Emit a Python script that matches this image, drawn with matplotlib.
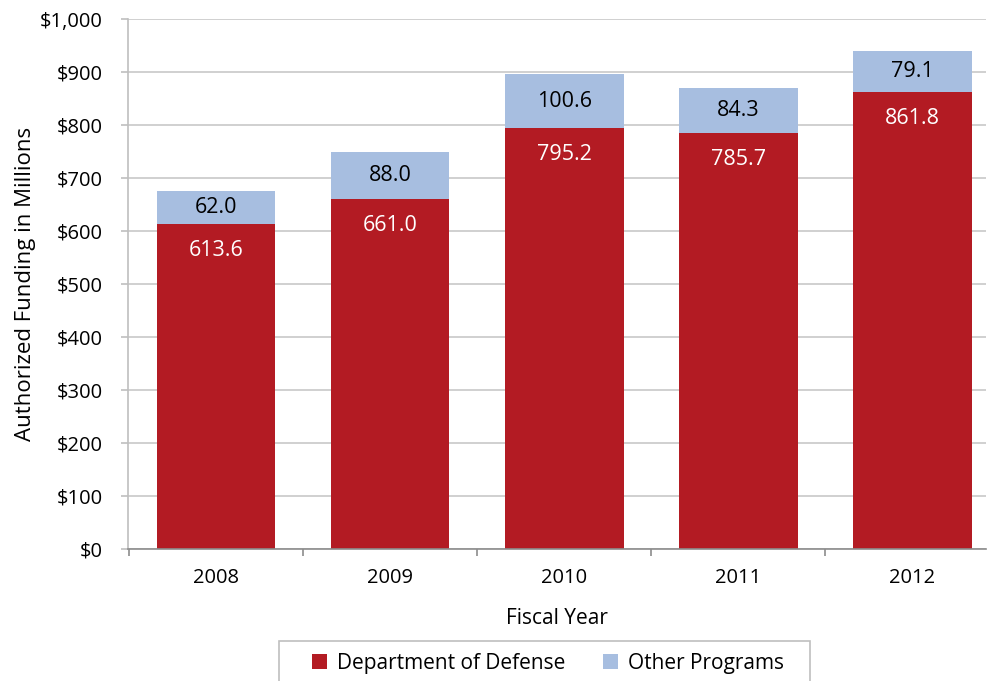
import matplotlib.pyplot as plt
from matplotlib.patches import Rectangle
from matplotlib.ticker import FuncFormatter

years = ['2008', '2009', '2010', '2011', '2012']
dod = [613.6, 661.0, 795.2, 785.7, 861.8]
other = [62.0, 88.0, 100.6, 84.3, 79.1]

red = '#B31B23'
blue = '#A7BEE0'

plt.rcParams['font.family'] = ['Open Sans', 'DejaVu Sans']

fig = plt.figure(figsize=(9.88, 6.81), dpi=100)
ax = fig.add_axes([0.1296, 0.1938, 0.868, 0.778])

x = list(range(len(years)))
ax.bar(x, dod, width=0.68, color=red, label='Department of Defense', zorder=2)
ax.bar(x, other, width=0.68, bottom=dod, color=blue, label='Other Programs', zorder=2)

for i in x:
    ax.text(i, dod[i] - 50, '{:.1f}'.format(dod[i]), ha='center', va='center',
            color='white', fontsize=15.5, zorder=3)
    ax.text(i, dod[i] + other[i] / 2, '{:.1f}'.format(other[i]), ha='center', va='center',
            color='black', fontsize=15.5, zorder=3)

ax.set_xlim(-0.506, 4.42)
ax.set_ylim(0, 1000)
ax.set_yticks(range(0, 1001, 100))
ax.yaxis.set_major_formatter(FuncFormatter(lambda v, p: '${:,.0f}'.format(v)))
ax.set_xticks(x)
ax.set_xticklabels(years)
ax.set_xticks([i - 0.5 for i in x], minor=True)
ax.tick_params(axis='x', which='major', length=0, pad=14, labelsize=14.5)
ax.tick_params(axis='x', which='minor', length=5, color='#8C8C8C', width=1.2)
ax.tick_params(axis='y', length=5, color='#BFBFBF', width=1.2, labelsize=14.5, pad=13)
ax.grid(axis='y', color='#C8C8C8', linewidth=1.2, zorder=0)

for s in ['top', 'right']:
    ax.spines[s].set_visible(False)
ax.spines['left'].set_color('#BFBFBF')
ax.spines['left'].set_linewidth(1.2)
ax.spines['bottom'].set_color('#8C8C8C')
ax.spines['bottom'].set_linewidth(1.2)

ax.set_xlabel('Fiscal Year', fontsize=15, labelpad=14)
ax.set_ylabel('Authorized Funding in Millions', fontsize=16, labelpad=3)

# legend box drawn separately (wide side padding like the original)
fig.patches.append(Rectangle((0.2824, -0.01), 0.5374, 0.0687, transform=fig.transFigure,
                             fill=False, edgecolor='#BFBFBF', linewidth=1.2))
leg = fig.legend(loc='center', bbox_to_anchor=(0.5547, 0.0264), ncol=2, fontsize=15,
                 frameon=False, handlelength=0.7, handleheight=0.7, handletextpad=0.5,
                 columnspacing=1.8, borderpad=0, borderaxespad=0)

fig.savefig('out.png', dpi=100)
